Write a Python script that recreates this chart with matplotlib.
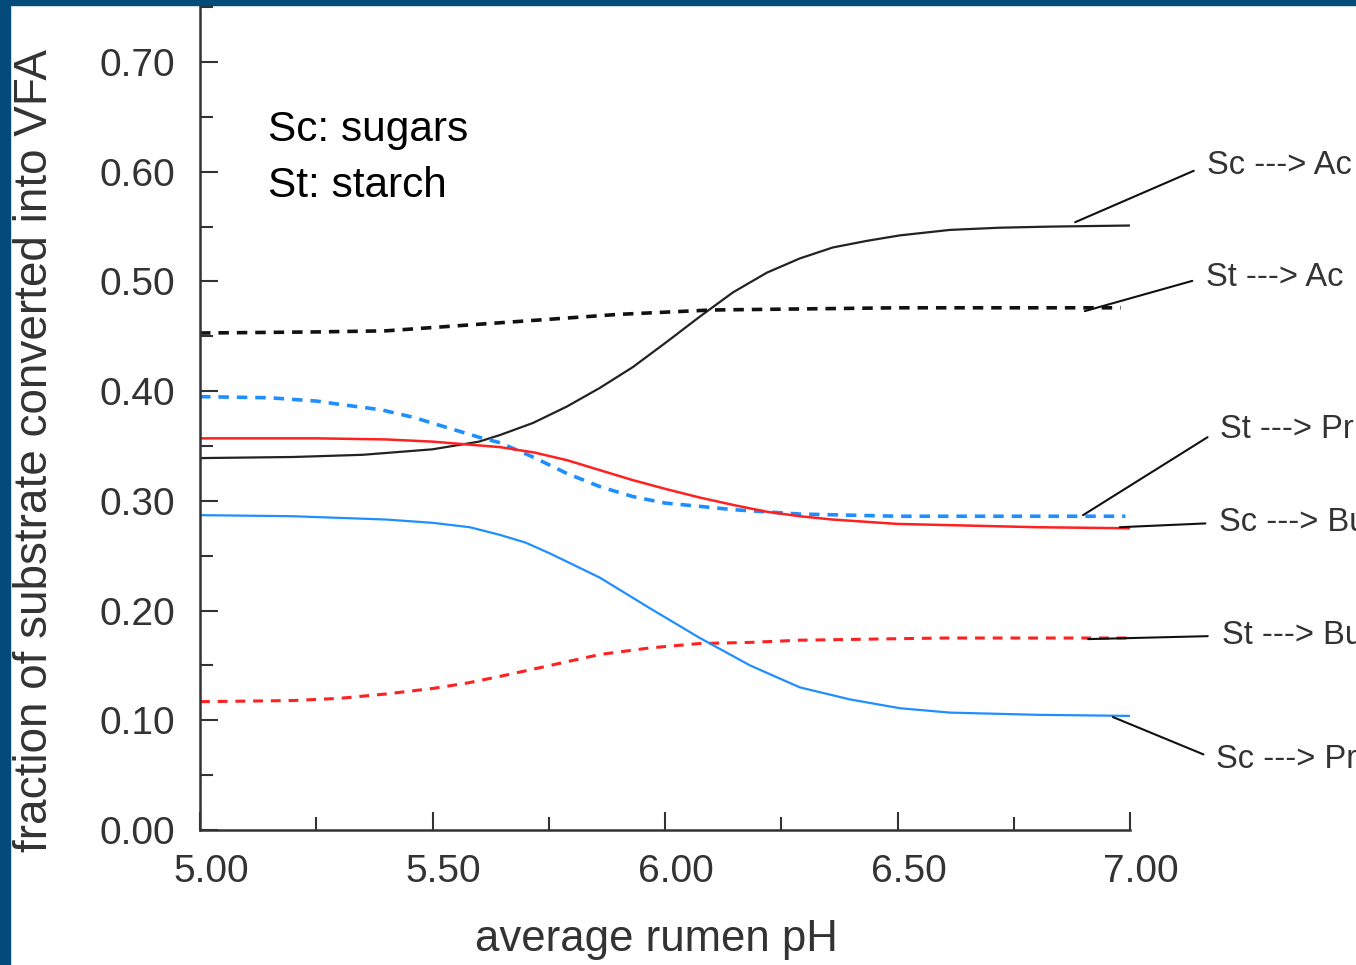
import matplotlib
matplotlib.use("Agg")
import matplotlib.pyplot as plt
import matplotlib.transforms as mtransforms
from matplotlib.patches import Rectangle
from matplotlib.ticker import MultipleLocator

plt.rcParams['font.family'] = ['Liberation Sans', 'DejaVu Sans']

# pH readings of each curve
ph_sc_ac = [5.0, 5.2, 5.35, 5.5, 5.6, 5.645, 5.716, 5.789, 5.86, 5.931, 6.004, 6.075, 6.146,
            6.219, 6.29, 6.361, 6.434, 6.505, 6.613, 6.72, 6.828, 7.0]
sc_ac = [0.339, 0.340, 0.342, 0.347, 0.354, 0.360, 0.371, 0.386, 0.403, 0.422, 0.445, 0.468, 0.490,
         0.508, 0.521, 0.531, 0.537, 0.542, 0.547, 0.549, 0.550, 0.551]

ph_st_ac = [5.0, 5.25, 5.4, 5.5, 5.6, 5.7, 5.8, 5.9, 6.0, 6.1, 6.3, 6.5, 6.98]
st_ac = [0.453, 0.454, 0.455, 0.458, 0.461, 0.464, 0.467, 0.470, 0.472, 0.474, 0.475, 0.476, 0.476]

ph_st_pr = [5.0, 5.15, 5.25, 5.3, 5.39, 5.46, 5.53, 5.6, 5.645, 5.716, 5.789, 5.86, 5.93, 6.0,
            6.075, 6.146, 6.29, 6.5, 6.99]
st_pr = [0.395, 0.394, 0.391, 0.388, 0.383, 0.376, 0.367, 0.358, 0.353, 0.340, 0.325, 0.313, 0.304, 0.298,
         0.295, 0.292, 0.288, 0.286, 0.286]

ph_sc_bu = [5.0, 5.25, 5.4, 5.5, 5.645, 5.72, 5.79, 5.86, 5.93, 6.0, 6.075, 6.15, 6.22, 6.29, 6.36,
            6.43, 6.5, 6.6, 6.8, 7.0]
sc_bu = [0.357, 0.357, 0.356, 0.354, 0.349, 0.344, 0.337, 0.328, 0.319, 0.311, 0.303, 0.296, 0.290, 0.286, 0.283,
         0.281, 0.279, 0.278, 0.276, 0.275]

ph_st_bu = [5.0, 5.2, 5.3, 5.4, 5.5, 5.575, 5.645, 5.753, 5.86, 5.968, 6.075, 6.183, 6.29, 6.6, 7.0]
st_bu = [0.117, 0.118, 0.120, 0.124, 0.129, 0.134, 0.140, 0.150, 0.160, 0.166, 0.170, 0.171, 0.173, 0.175, 0.175]

ph_sc_pr = [5.0, 5.2, 5.4, 5.5, 5.58, 5.645, 5.7, 5.753, 5.86, 5.968, 6.075, 6.183, 6.29, 6.398,
            6.505, 6.613, 6.8, 7.0]
sc_pr = [0.287, 0.286, 0.283, 0.280, 0.276, 0.269, 0.262, 0.252, 0.230, 0.202, 0.175, 0.150, 0.130, 0.119,
         0.111, 0.107, 0.105, 0.104]

# curve labels: text, point on curve, text position
labels = ["Sc ---> Ac", "St ---> Ac", "St ---> Pr", "Sc ---> Bu", "St ---> Bu", "Sc ---> Pr"]
label_xy = [(6.882, 0.554), (6.903, 0.473), (6.899, 0.287), (6.978, 0.276), (6.910, 0.174), (6.963, 0.103)]
label_text_xy = [(7.165, 0.606), (7.163, 0.504), (7.193, 0.365), (7.192, 0.280), (7.197, 0.177), (7.186, 0.064)]

yticks = [0.0, 0.1, 0.2, 0.3, 0.4, 0.5, 0.6, 0.7]
xticks = [5.0, 5.5, 6.0, 6.5, 7.0]

red = '#ff2020'
blue = '#1f8fff'
grey = '#333333'

fig = plt.figure(figsize=(13.56, 9.65), dpi=100)
ax = fig.add_axes([200 / 1356, 1 - 830 / 965, 930 / 1356, 825 / 965])

ax.plot(ph_sc_ac, sc_ac, color='#222222', lw=1.6, solid_joinstyle='round')
ax.plot(ph_st_ac, st_ac, color='#111111', lw=2.6, ls=(0, (2.9, 2.2)))
ax.plot(ph_st_pr, st_pr, color=blue, lw=2.6, ls=(0, (2.9, 2.2)))
ax.plot(ph_sc_bu, sc_bu, color=red, lw=1.8, solid_joinstyle='round')
ax.plot(ph_st_bu, st_bu, color=red, lw=2.2, ls=(0, (3.2, 2.6)))
ax.plot(ph_sc_pr, sc_pr, color=blue, lw=1.6, solid_joinstyle='round')

for lab, xy, txy in zip(labels, label_xy, label_text_xy):
    ax.annotate(lab, xy=xy, xytext=txy, textcoords='data', fontsize=23.5, color=grey,
                va='center', ha='left', annotation_clip=False,
                arrowprops=dict(arrowstyle='-', color='#111111', lw=1.5, shrinkA=8, shrinkB=0,
                                relpos=(0, 0.5)))

ax.text(5.146, 0.638, "Sc: sugars", fontsize=30.5, color='black', va='center')
ax.text(5.146, 0.587, "St: starch", fontsize=30.5, color='black', va='center')

ax.set_xlim(5.0, 7.0)
ax.set_ylim(0.0, 0.752)
ax.set_xticks(xticks)
ax.set_xticklabels([f"{v:.2f}" for v in xticks])
ax.set_yticks(yticks)
ax.set_yticklabels([f"{v:.2f}" for v in yticks])
ax.xaxis.set_minor_locator(MultipleLocator(0.25))
ax.yaxis.set_minor_locator(MultipleLocator(0.05))
ax.tick_params(axis='both', which='major', direction='in', length=13, width=1.5,
               color=grey, labelsize=28, labelcolor=grey)
ax.tick_params(axis='both', which='minor', direction='in', length=9.5, width=1.5, color=grey)
ax.tick_params(axis='y', which='major', pad=18)
ax.tick_params(axis='x', which='major', pad=17)
offset = mtransforms.ScaledTranslation(11 / 100, 0, fig.dpi_scale_trans)
for t in ax.get_xticklabels():
    t.set_transform(t.get_transform() + offset)

for s in ['top', 'right']:
    ax.spines[s].set_visible(False)
for s in ['left', 'bottom']:
    ax.spines[s].set_color(grey)
    ax.spines[s].set_linewidth(1.8)

fig.text(656 / 1356, 1 - 940 / 965, "average rumen pH", fontsize=31.5, color=grey,
         ha='center', va='center')
fig.text(35 / 1356, 1 - 450 / 965, "fraction of substrate converted into VFA", fontsize=33,
         color=grey, ha='center', va='center', rotation=90)

# dark blue frame on the top and left edges
border = '#034b7b'
fig.patches.append(Rectangle((0, 0), 10 / 1356, 1, transform=fig.transFigure, color=border, zorder=10))
fig.patches.append(Rectangle((0, 1 - 5 / 965), 1, 5 / 965, transform=fig.transFigure, color=border, zorder=10))

fig.savefig("out.png", dpi=100)
